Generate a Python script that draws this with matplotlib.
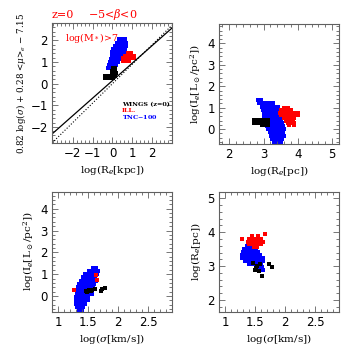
import numpy as np
import matplotlib
matplotlib.use("Agg")
import matplotlib.pyplot as plt
from matplotlib.ticker import MultipleLocator

plt.rcParams['font.family'] = ['DejaVu Serif']
plt.rcParams['mathtext.fontset'] = 'dejavuserif'

# ---- panel 1 : FP edge-on, log(Re[kpc]) vs combination ----
p1_blue_x = [0.35, 0.5, 0.65,
             0.25, 0.4, 0.55, 0.7,
             0.15, 0.3, 0.45, 0.6, 0.7,
             0.05, 0.2, 0.35, 0.5, 0.65,
             0.0, 0.15, 0.3, 0.45, 0.6,
             -0.05, 0.1, 0.25, 0.4, 0.5,
             -0.1, 0.05, 0.2, 0.35, 0.45,
             -0.15, 0.0, 0.15, 0.3,
             -0.2, -0.05, 0.1, 0.2,
             -0.25, -0.1]
p1_blue_y = [2.05] * 3 + [1.9] * 4 + [1.75] * 5 + [1.6] * 5 + [1.45] * 5 + \
            [1.3] * 5 + [1.15] * 5 + [1.0] * 4 + [0.85] * 4 + [0.72] * 2
p1_red_x = [0.8, 0.95,
            0.65, 0.8, 0.95, 1.08,
            0.55, 0.7, 0.85, 1.0, 1.1,
            0.55, 0.7, 0.85]
p1_red_y = [1.42] * 2 + [1.3] * 4 + [1.18] * 5 + [1.05] * 3
p1_black_x = [0.05, 0.15,
              0.0, 0.12,
              -0.05, 0.08, 0.18,
              -0.4, -0.25, -0.1, 0.05, 0.15,
              -0.4, -0.25, -0.1, 0.05]
p1_black_y = [0.72] * 2 + [0.6] * 2 + [0.48] * 3 + [0.36] * 5 + [0.24] * 4
# straight lines: slope, intercept
fp_solid = (0.81, 0.14)
fp_dotted = (0.9, 0.0)

# ---- panel 2 : log(Re[pc]) vs log(Ie) ----
p2_blue_x = [2.85, 2.92,
             2.88, 2.98, 3.08, 3.18, 3.28,
             2.95, 3.05, 3.15, 3.25, 3.35, 3.42,
             2.98, 3.08, 3.18, 3.28, 3.38, 3.45,
             3.0, 3.1, 3.2, 3.3, 3.4, 3.48,
             3.02, 3.12, 3.22, 3.32, 3.42, 3.5,
             3.05, 3.15, 3.25, 3.35, 3.45, 3.52,
             3.08, 3.18, 3.28, 3.38, 3.48, 3.55,
             3.1, 3.2, 3.3, 3.4, 3.5, 3.57,
             3.12, 3.22, 3.32, 3.42, 3.52, 3.6,
             3.18, 3.28, 3.38, 3.48, 3.58,
             3.22, 3.32, 3.42, 3.52, 3.6,
             3.25, 3.35, 3.45, 3.55,
             3.3, 3.4, 3.5]
p2_blue_y = [1.35] * 2 + [1.2] * 5 + [1.05] * 6 + [0.9] * 6 + [0.75] * 6 + \
            [0.6] * 6 + [0.45] * 6 + [0.3] * 6 + [0.15] * 6 + [0.0] * 6 + \
            [-0.15] * 5 + [-0.3] * 5 + [-0.45] * 4 + [-0.6] * 3
p2_red_x = [3.6, 3.7,
            3.5, 3.6, 3.7, 3.8,
            3.48, 3.58, 3.68, 3.78, 3.9, 4.0,
            3.5, 3.6, 3.7, 3.8, 3.9, 4.0,
            3.6, 3.7, 3.8, 3.9,
            3.65, 3.75, 3.85,
            3.7, 3.8, 3.9,
            3.75, 3.88]
p2_red_y = [1.0] * 2 + [0.88] * 4 + [0.76] * 6 + [0.64] * 6 + [0.52] * 4 + \
           [0.4] * 3 + [0.28] * 3 + [0.18] * 2
p2_black_x = [2.72, 2.82, 2.92, 3.02, 3.12,
              2.72, 2.82, 2.92, 3.02, 3.12,
              2.95, 3.05, 3.12]
p2_black_y = [0.42] * 5 + [0.3] * 5 + [0.18] * 3

# ---- panel 3 : log(sigma) vs log(Ie) ----
p3_blue_x = [1.58, 1.63,
             1.52, 1.57, 1.62, 1.67,
             1.45, 1.5, 1.55, 1.6, 1.65,
             1.42, 1.47, 1.52, 1.57, 1.62,
             1.38, 1.43, 1.48, 1.53, 1.58, 1.63,
             1.35, 1.4, 1.45, 1.5, 1.55, 1.6,
             1.33, 1.38, 1.43, 1.48, 1.53, 1.58,
             1.32, 1.37, 1.42, 1.47, 1.52, 1.57,
             1.31, 1.36, 1.41, 1.46, 1.51, 1.56,
             1.3, 1.35, 1.4, 1.45, 1.5,
             1.3, 1.35, 1.4, 1.45, 1.5,
             1.3, 1.35, 1.4, 1.45,
             1.32, 1.37, 1.42,
             1.35, 1.4]
p3_blue_y = [1.3] * 2 + [1.15] * 4 + [1.0] * 5 + [0.85] * 5 + [0.7] * 6 + \
            [0.55] * 6 + [0.4] * 6 + [0.25] * 6 + [0.1] * 6 + [-0.05] * 5 + \
            [-0.2] * 5 + [-0.35] * 4 + [-0.5] * 3 + [-0.63] * 2
p3_red_x = [1.64, 1.65, 1.26]
p3_red_y = [0.98, 0.72, 0.27]
p3_black_x = [1.46, 1.51, 1.56, 1.61, 1.49, 1.55, 1.71, 1.74, 1.78]
p3_black_y = [0.25, 0.26, 0.28, 0.31, 0.2, 0.22, 0.25, 0.31, 0.37]

# ---- panel 4 : log(sigma) vs log(Re[pc]) ----
p4_blue_x = [1.37, 1.42, 1.47,
             1.32, 1.37, 1.42, 1.47, 1.52,
             1.3, 1.35, 1.4, 1.45, 1.5, 1.55,
             1.28, 1.33, 1.38, 1.43, 1.48, 1.53, 1.58,
             1.29, 1.34, 1.39, 1.44, 1.49, 1.54, 1.59, 1.63,
             1.33, 1.38, 1.43, 1.48, 1.53, 1.58, 1.63,
             1.4, 1.45, 1.5, 1.55, 1.6,
             1.52, 1.57, 1.62,
             1.58, 1.63]
p4_blue_y = [3.6] * 3 + [3.51] * 5 + [3.42] * 6 + [3.33] * 7 + [3.24] * 8 + \
            [3.15] * 7 + [3.06] * 5 + [2.97] * 3 + [2.88] * 2
p4_red_x = [1.45, 1.55,
            1.4, 1.45, 1.5, 1.55, 1.6,
            1.38, 1.43, 1.48, 1.53, 1.58, 1.63,
            1.4, 1.45, 1.5, 1.55, 1.6,
            1.48, 1.53,
            1.28, 1.67]
p4_red_y = [3.88] * 2 + [3.8] * 5 + [3.72] * 6 + [3.64] * 5 + [3.57] * 2 + \
           [3.8, 3.94]
p4_black_x = [1.47, 1.53, 1.58, 1.5, 1.56, 1.61, 1.74, 1.79, 1.52]
p4_black_y = [3.08, 3.01, 3.06, 2.88, 2.85, 2.72, 3.06, 2.97, 2.95]

frame = '#606060'
ms = 11

fig = plt.figure(figsize=(3.55, 3.55), dpi=100)
w = 0.338
ax1 = fig.add_axes([0.1465, 0.597, w, w])
ax2 = fig.add_axes([0.617, 0.594, w, w])
ax3 = fig.add_axes([0.1465, 0.122, w, w])
ax4 = fig.add_axes([0.617, 0.122, w, w])


def style(ax, xlim, ylim, xticks, xmin, yticks, ymin):
    ax.set_xlim(*xlim)
    ax.set_ylim(*ylim)
    ax.set_xticks(xticks)
    ax.set_yticks(yticks)
    ax.set_xticklabels([('%g' % t).replace('-', '\u2212') for t in xticks])
    ax.set_yticklabels([('%g' % t).replace('-', '\u2212') for t in yticks])
    ax.xaxis.set_minor_locator(MultipleLocator(xmin))
    ax.yaxis.set_minor_locator(MultipleLocator(ymin))
    ax.tick_params(which='both', direction='in', top=True, right=True,
                   color=frame, width=0.6, labelsize=8.5, pad=3)
    ax.tick_params(which='major', length=4.5)
    ax.tick_params(which='minor', length=2.2)
    for lab in ax.get_xticklabels() + ax.get_yticklabels():
        lab.set_family('DejaVu Sans')
    for s in ax.spines.values():
        s.set_color(frame)
        s.set_linewidth(0.8)


def blobs(ax, bx, by, rx, ry, kx, ky):
    ax.scatter(bx, by, s=ms, marker='s', color='#0000ff', linewidths=0)
    ax.scatter(rx, ry, s=ms, marker='s', color='#ff0000', linewidths=0)
    ax.scatter(kx, ky, s=ms, marker='s', color='black', linewidths=0)


# panel 1
style(ax1, (-3.05, 3.0), (-2.75, 2.8), [-2, -1, 0, 1, 2], 0.2, [-2, -1, 0, 1, 2], 0.2)
xx = np.array([-3.05, 3.0])
ax1.plot(xx, fp_solid[0] * xx + fp_solid[1], color='black', lw=0.9)
ax1.plot(xx, fp_dotted[0] * xx + fp_dotted[1], color='black', lw=0.8, ls=':')
blobs(ax1, p1_blue_x, p1_blue_y, p1_red_x, p1_red_y, p1_black_x, p1_black_y)
ax1.set_xlabel(r'log(R$_e$[kpc])', fontsize=7.5, labelpad=2)
ax1.set_ylabel(r'0.82 log($\sigma$) + 0.28 <$\mu$>$_e$ $-$ 7.15', fontsize=6.3, labelpad=2)
ax1.text(0.0, 1.04, 'z=0', color='red', fontsize=8, transform=ax1.transAxes)
ax1.text(0.3, 1.04, r'$-$5<$\beta$<0', color='red', fontsize=8, transform=ax1.transAxes)
ax1.text(0.11, 0.85, r'log(M$_*$)>7', color='red', fontsize=6.8, transform=ax1.transAxes)
ax1.text(0.58, 0.31, 'WINGS (z=0)', color='black', fontsize=4.6, fontweight='bold',
         transform=ax1.transAxes)
ax1.text(0.58, 0.255, 'ILL.', color='red', fontsize=4.6, fontweight='bold',
         transform=ax1.transAxes)
ax1.text(0.58, 0.2, 'TNC$-$100', color='blue', fontsize=4.6, fontweight='bold',
         transform=ax1.transAxes)

# panel 2
style(ax2, (1.7, 5.2), (-0.7, 4.9), [2, 3, 4, 5], 0.2, [0, 1, 2, 3, 4], 0.2)
blobs(ax2, p2_blue_x, p2_blue_y, p2_red_x, p2_red_y, p2_black_x, p2_black_y)
ax2.set_xlabel(r'log(R$_e$[pc])', fontsize=7.5, labelpad=2)
ax2.set_ylabel(r'log(I$_e$[L$_\odot$/pc$^2$])', fontsize=7.5, labelpad=3)

# panel 3
style(ax3, (0.9, 2.9), (-0.72, 4.78), [1, 1.5, 2, 2.5], 0.1, [0, 1, 2, 3, 4], 0.2)
blobs(ax3, p3_blue_x, p3_blue_y, p3_red_x, p3_red_y, p3_black_x, p3_black_y)
ax3.set_xlabel(r'log($\sigma$[km/s])', fontsize=7.5, labelpad=2)
ax3.set_ylabel(r'log(I$_e$[L$_\odot$/pc$^2$])', fontsize=7.5, labelpad=3)

# panel 4
style(ax4, (0.9, 2.9), (1.65, 5.2), [1, 1.5, 2, 2.5], 0.1, [2, 3, 4, 5], 0.2)
blobs(ax4, p4_blue_x, p4_blue_y, p4_red_x, p4_red_y, p4_black_x, p4_black_y)
ax4.set_xlabel(r'log($\sigma$[km/s])', fontsize=7.5, labelpad=2)
ax4.set_ylabel(r'log(R$_e$[pc])', fontsize=7.5, labelpad=3)

plt.savefig('out.png', dpi=100)
